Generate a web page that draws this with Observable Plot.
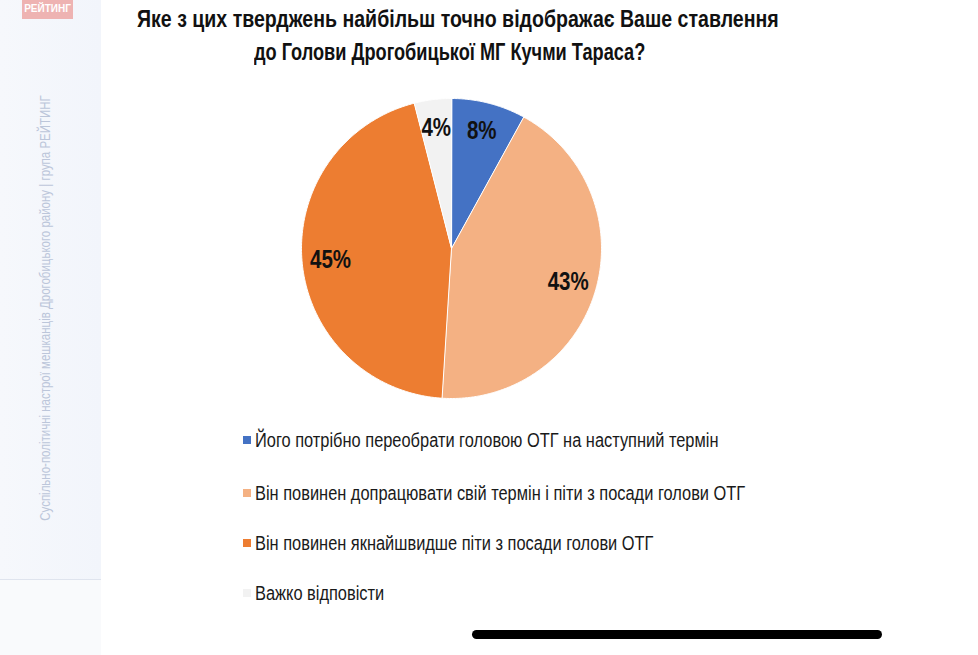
<!DOCTYPE html>
<html>
<head>
<meta charset="utf-8">
<script src="https://cdn.jsdelivr.net/npm/d3@7"></script>
<script src="https://cdn.jsdelivr.net/npm/@observablehq/plot@0.6"></script>
<style>
  html, body { margin: 0; padding: 0; background: #ffffff; }
  body { width: 978px; height: 655px; position: relative; overflow: hidden;
         font-family: "Liberation Sans", Arial, sans-serif; }
  #sidebar { position: absolute; left: 0; top: 0; width: 101px; height: 655px;
             background: linear-gradient(to right, #f6f8fc, #f2f5fb); }
  #sidebar .rule { position: absolute; left: 0; top: 579px; width: 101px; height: 1px; background: #dfe4ee; }
  #sidebar .lower { position: absolute; left: 0; top: 580px; width: 101px; height: 75px; background: #f9fafc; }
  #badge { position: absolute; left: 22px; top: 0; width: 51px; height: 19px; background: #eeb3b2;
           color: #fff; font: bold 10px "Liberation Sans", Arial, sans-serif; text-align: center; line-height: 17px; }
  #vtext { position: absolute; left: 45px; top: 308px; transform: translate(-50%, -50%) rotate(-90deg) scaleX(0.82);
           white-space: nowrap; color: #bcc6da; font-size: 14px; }
  .title { position: absolute; font-weight: bold; font-size: 23px; color: #111; white-space: nowrap; transform-origin: 0 50%; }
  #plot { position: absolute; left: 291px; top: 88px; }
  .leg { position: absolute; left: 243px; font-size: 20px; color: #1a1a1a; white-space: nowrap; }
  .leg span.sw { display: inline-block; width: 8px; height: 8px; margin-right: 4px; vertical-align: 3px; }
  .leg span.tx { display: inline-block; transform: scaleX(0.82); transform-origin: 0 50%; }
  #home { position: absolute; left: 472px; top: 630px; width: 410px; height: 9px; background: #000; border-radius: 5px; }
</style>
</head>
<body>
<div id="sidebar"><div class="lower"></div><div class="rule"></div></div>
<div id="badge">РЕЙТИНГ</div>
<div id="vtext">Суспільно-політичні настрої мешканців Дрогобицького району | група РЕЙТИНГ</div>
<div class="title" style="left:137px; top:6px; transform: scaleX(0.85);">Яке з цих тверджень найбільш точно відображає Ваше ставлення</div>
<div class="title" style="left:254px; top:39px; transform: scaleX(0.79);">до Голови Дрогобицької МГ Кучми Тараса?</div>
<div id="plot"></div>
<div id="legend"></div>
<div id="home"></div>
<script>
const categories = [
  "Його потрібно переобрати головою ОТГ на наступний термін",
  "Він повинен допрацювати свій термін і піти з посади голови ОТГ",
  "Він повинен якнайшвидше піти з посади голови ОТГ",
  "Важко відповісти"
];
const values = [8, 43, 45, 4];
const labels = ["8%", "43%", "45%", "4%"];
const colors = ["#4472c4", "#f4b183", "#ed7d31", "#f2f2f2"];

const arcs = d3.pie().sort(null).value(d => d)(values);
const pts = [];
const labelPts = [];
arcs.forEach((a, i) => {
  pts.push({slice: categories[i], x: 0, y: 0});
  const n = Math.max(2, Math.ceil((a.endAngle - a.startAngle) / 0.01));
  for (let k = 0; k <= n; k++) {
    const t = a.startAngle + (a.endAngle - a.startAngle) * k / n;
    pts.push({slice: categories[i], x: Math.sin(t), y: Math.cos(t)});
  }
  const m = (a.startAngle + a.endAngle) / 2;
  labelPts.push({label: labels[i], x: 0.81 * Math.sin(m), y: 0.81 * Math.cos(m)});
});

const chart = Plot.plot({
  width: 320, height: 320, margin: 10,
  x: {domain: [-1, 1], axis: null},
  y: {domain: [-1, 1], axis: null},
  color: {domain: categories, range: colors},
  marks: [
    Plot.line(pts, {x: "x", y: "y", z: "slice", fill: "slice", stroke: "white", strokeWidth: 1, curve: "linear-closed"}),
    Plot.text(labelPts, {x: "x", y: "y", text: "label", fontSize: 25, fontWeight: "bold", fill: "#111",
      fontFamily: "Liberation Sans, Arial, sans-serif"})
  ]
});
d3.select(chart).selectAll("text").each(function() {
  const t = this.getAttribute("transform");
  if (t) {
    this.setAttribute("transform", t + " scale(0.82,1)");
  } else {
    const x = +this.getAttribute("x") || 0, y = +this.getAttribute("y") || 0;
    this.removeAttribute("x"); this.removeAttribute("y");
    this.setAttribute("transform", `translate(${x},${y}) scale(0.82,1)`);
  }
});
document.getElementById("plot").appendChild(chart);

const tops = [429, 482, 532, 582];
const legend = document.getElementById("legend");
categories.forEach((c, i) => {
  const d = document.createElement("div");
  d.className = "leg";
  d.style.top = tops[i] + "px";
  const sw = document.createElement("span");
  sw.className = "sw";
  sw.style.background = colors[i];
  d.appendChild(sw);
  const tx = document.createElement("span");
  tx.className = "tx";
  tx.textContent = c;
  d.appendChild(tx);
  legend.appendChild(d);
});
</script>
</body>
</html>
